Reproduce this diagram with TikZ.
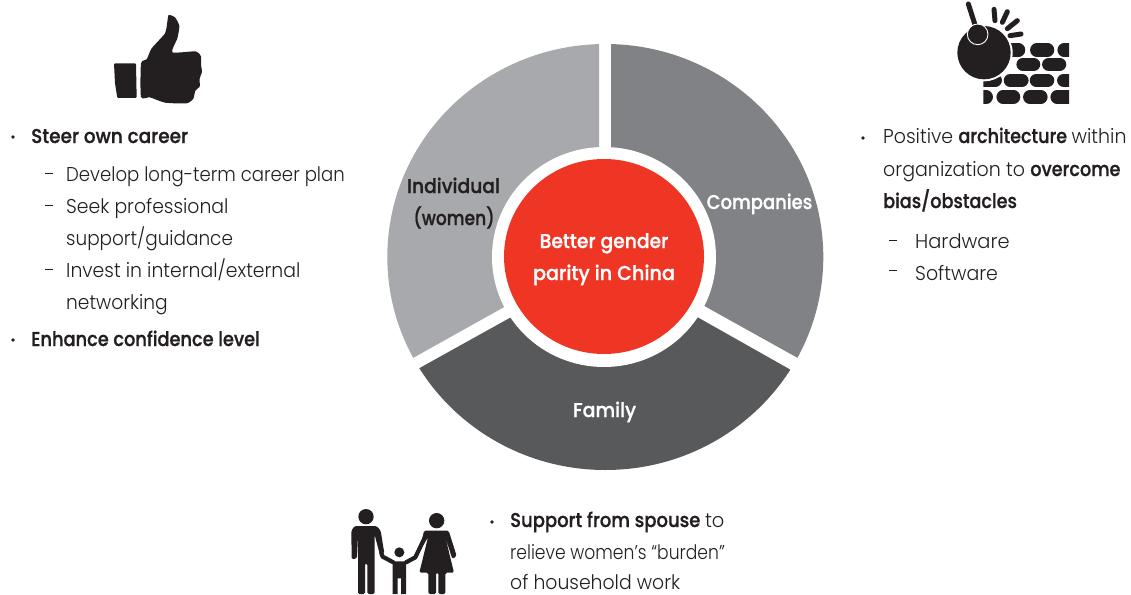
\documentclass[tikz,border=0pt]{standalone}
\usepackage{fontspec}
\usepackage{graphicx}
\usetikzlibrary{shapes.geometric}
\setmainfont{Poppins}
\definecolor{ink}{HTML}{231F20}
\definecolor{segA}{HTML}{A7A9AC}
\definecolor{segB}{HTML}{808285}
\definecolor{segC}{HTML}{58595B}
\definecolor{hub}{HTML}{EF3524}
\newfontface\bodyface[FakeStretch=0.97]{Poppins Light}
\newfontface\headface[FakeStretch=0.90,FakeBold=0.9]{Poppins Medium}
\newcommand{\sx}[2]{\scalebox{#1}[1]{#2}}
\tikzset{
  body/.style={anchor=base west,inner sep=0,text=ink,font=\bodyface\fontsize{20}{20}\selectfont},
  head/.style={anchor=base west,inner sep=0,text=ink,font=\headface\fontsize{20}{20}\selectfont},
  seg/.style={anchor=base,inner sep=0,text=white,font=\headface\fontsize{20}{20}\selectfont},
  segdark/.style={seg,text=ink},
  dot/.style={circle,fill=ink,inner sep=0,minimum size=3.8pt},
  dashmark/.style={rectangle,fill=ink,inner sep=0,minimum width=8.5pt,minimum height=1pt},
  blk/.style={fill=ink,draw=none},
  brick/.style={draw=ink,line width=13.2pt,line cap=round},
  spark/.style={draw=ink,line width=5pt,line cap=round},
  limb/.style={draw=ink,line width=4.2pt,line join=round,line cap=round},
}
\begin{document}
\begin{tikzpicture}[x=1pt,y=-1pt]
\useasboundingbox (0,0) rectangle (1131,594);
% donut segments
\begin{scope}
 \clip (599,30) -- (599,254) -- (370,382) -- (370,30) -- cycle;
 \fill[segA] (605.3,257) ellipse [x radius=218,y radius=213];
\end{scope}
\begin{scope}
 \clip (611,30) -- (611,254) -- (840,381.5) -- (840,30) -- cycle;
 \fill[segB] (605.3,257) ellipse [x radius=218,y radius=213];
\end{scope}
\begin{scope}
 \clip (605,265) -- (380,390) -- (380,480) -- (830,480) -- (830,392) -- cycle;
 \fill[segC] (605.3,257) ellipse [x radius=218,y radius=213];
\end{scope}
\node[ellipse,fill=white,inner sep=0,minimum width=224pt,minimum height=220pt] (ring) at (604,257) {};
\node[ellipse,fill=hub,inner sep=0,minimum width=200pt,minimum height=195pt] (core) at (604,256.5) {};
% donut labels
\node[segdark] (indiv) at (453.5,193) {\sx{1.04}{Individual}};
\node[segdark] (women) at (454,225) {\sx{.95}{(women)}};
\node[seg] (comp) at (759.5,209) {Companies};
\node[seg] (fam) at (604.5,417) {\sx{1.05}{Family}};
\node[seg] (better) at (604,248) {\sx{1.04}{Better gender}};
\node[seg] (parity) at (604,280) {\sx{1.065}{parity in China}};
% left text
\node[dot] (bl1) at (13,137) {};
\node[head] (l1) at (31,143) {\sx{1.025}{Steer own career}};
\node[dashmark] (dl1) at (49,173) {};
\node[body] (l2) at (66,181) {\sx{.933}{Develop long-term career plan}};
\node[dashmark] (dl2) at (49,205) {};
\node[body] (l3) at (66,213) {\sx{.97}{Seek professional}};
\node[body] (l4) at (66,245) {\sx{.95}{support/guidance}};
\node[dashmark] (dl3) at (49,269) {};
\node[body] (l5) at (66,277) {\sx{.97}{Invest in internal/external}};
\node[body] (l6) at (66,309) {\sx{.96}{networking}};
\node[dot] (bl2) at (13,340) {};
\node[head] (l7) at (31,346) {\sx{.987}{Enhance confidence level}};
% right text
\node[dot] (br1) at (863,138) {};
\node[body] (r1) at (883,143) {\sx{.976}{Positive \headface architecture \bodyface within}};
\node[body] (r2) at (883,176) {\sx{.98}{organization to \headface overcome}};
\node[head] (r3) at (883,208) {\sx{.98}{bias/obstacles}};
\node[dashmark] (dr1) at (893,240) {};
\node[body] (r4) at (915,248) {Hardware};
\node[dashmark] (dr2) at (893,270) {};
\node[body] (r5) at (915,280) {\sx{.976}{Software}};
% bottom text
\node[dot] (bb1) at (492,522) {};
\node[body] (b1) at (510,527) {\headface Support from spouse \bodyface to};
\node[body] (b2) at (510,559) {\sx{.885}{relieve women’s “burden”}};
\node[body] (b3) at (510,589) {\sx{.97}{of household work}};
% thumb icon
\begin{scope}[shift={(90,0)},scale=1/3]
 \fill[blk,rounded corners=1pt] (72,190) -- (138,190) -- (140,294) -- (82,294) -- (75,250) -- cycle;
 \fill[blk] plot[smooth cycle,tension=0.35] coordinates {(153,190) (170,178) (185,145) (225,100) (232,65) (236,45) (255,52) (268,78) (262,115) (247,157) (318,154) (333,170) (333,195) (336,215) (329,236) (329,260) (316,272) (310,296) (290,310) (225,308) (180,292) (153,291)};
\end{scope}
% wrecking ball icon
\begin{scope}[shift={(940,0)},scale=1/3]
 \begin{scope}
  \clip (130,120) rectangle (387,315);
  \foreach \a/\b/\c in {150/190/236,150/290/323,150/372/420,193/249/281,193/326/359,241/100/166,241/211/246,241/289/323,241/371/420,291/100/139,291/189/221,291/269/303,291/351/420}
   \draw[brick] (\b,\a) -- (\c,\a);
 \end{scope}
 \fill[white] (132,158) circle (86);
 \fill[ink] (132,158) circle (80);
 \draw[spark] (85,12) -- (110,90);
 \fill[ink] (113,103) circle (30);
 \draw[white,line width=0.9pt] (113,103) circle (31);
 \draw[spark] (162,28) -- (165,62);
 \draw[spark] (202,35) -- (187,67);
 \draw[spark] (232,62) -- (202,86);
 \draw[spark] (243,102) -- (210,107);
\end{scope}
% family icon
\begin{scope}[shift={(340,500)},scale=1/3]
 \fill[ink] (78,50) circle (23);
 \fill[blk,rounded corners=1.5pt] (34,92) -- (44,78) -- (110,78) -- (122,92) -- (133,160) -- (120,165) -- (104,105) -- (104,282) -- (82,282) -- (82,190) -- (75,190) -- (75,282) -- (54,282) -- (54,105) -- (51,175) -- (35,178) -- cycle;
 \draw[limb] (124,160) -- (128,170) -- (160,187);
 \fill[ink] (178,157) circle (15);
 \fill[blk] (158,184) -- (198,184) -- (198,282) -- (183,282) -- (183,235) -- (173,235) -- (173,282) -- (158,282) -- cycle;
 \draw[limb] (198,187) -- (226,172) -- (258,105);
 \fill[ink] (290,62) circle (23);
 \fill[blk,rounded corners=1.5pt] (252,92) -- (326,92) -- (350,168) -- (337,177) -- (316,112) -- (342,218) -- (316,218) -- (316,282) -- (295,282) -- (295,218) -- (288,218) -- (288,282) -- (265,282) -- (265,218) -- (238,218) -- (264,112) -- (240,150) -- cycle;
\end{scope}
\end{tikzpicture}
\end{document}
